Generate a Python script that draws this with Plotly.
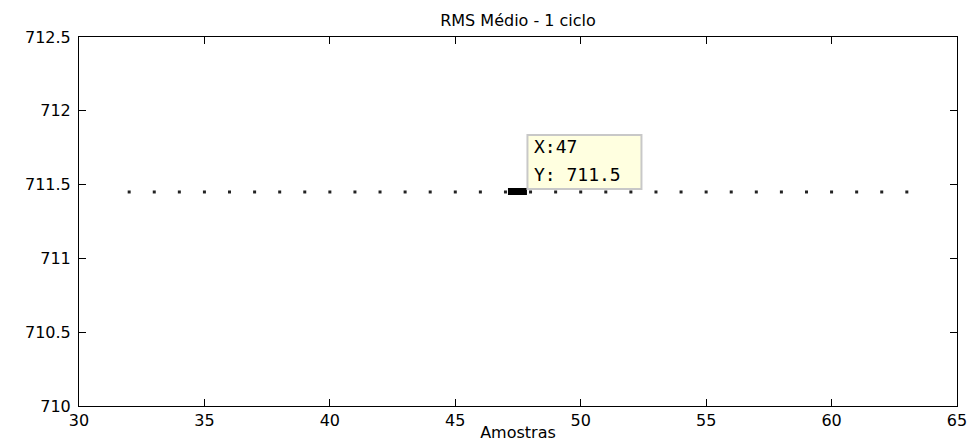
import plotly.graph_objects as go

# ---- data ----
amostras = [32, 33, 34, 35, 36, 37, 38, 39, 40, 41, 42, 43, 44, 45, 46, 47,
            48, 49, 50, 51, 52, 53, 54, 55, 56, 57, 58, 59, 60, 61, 62, 63]
rms_medio = [711.45, 711.45, 711.45, 711.45, 711.45, 711.45, 711.45, 711.45,
             711.45, 711.45, 711.45, 711.45, 711.45, 711.45, 711.45, 711.45,
             711.45, 711.45, 711.45, 711.45, 711.45, 711.45, 711.45, 711.45,
             711.45, 711.45, 711.45, 711.45, 711.45, 711.45, 711.45, 711.45]
x_ticks = [30, 35, 40, 45, 50, 55, 60, 65]
y_ticks = [710, 710.5, 711, 711.5, 712, 712.5]
y_tick_labels = ["710", "710.5", "711", "711.5", "712", "712.5"]
tip_x = 47
tip_y = rms_medio[amostras.index(tip_x)]
tip_lines = ["X:47", "Y: 711.5"]
title = "RMS Médio - 1 ciclo"
x_title = "Amostras"

font_main = "DejaVu Sans"
fig = go.Figure()
fig.add_trace(go.Scatter(
    x=amostras, y=rms_medio, mode="markers",
    marker=dict(symbol="square", size=3, color="#222222", line=dict(width=0)),
    hoverinfo="skip", showlegend=False,
))

axis_common = dict(
    showline=True, linecolor="black", linewidth=1, mirror="ticks",
    ticks="inside", ticklen=7, tickwidth=1, tickcolor="black",
    showgrid=False, zeroline=False, automargin=False,
    tickfont=dict(family=font_main, size=16, color="black"),
)
fig.update_xaxes(range=[30, 65], tickvals=x_ticks, ticktext=[str(v) for v in x_ticks],
                 ticklabelstandoff=0,
                 title=dict(text=x_title, font=dict(family=font_main, size=16, color="black"), standoff=0),
                 **axis_common)
fig.update_yaxes(range=[710, 712.5], tickvals=y_ticks, ticktext=y_tick_labels,
                 ticklabelstandoff=4, **axis_common)

# data tip: marker, box and text (positioned relative to the data point in pixels)
fig.add_shape(type="rect", xref="x", yref="y", xsizemode="pixel", ysizemode="pixel",
              xanchor=tip_x, yanchor=tip_y, x0=2.5, x1=21.5, y0=-3, y1=4,
              fillcolor="black", line=dict(width=0))
fig.add_shape(type="rect", xref="x", yref="y", xsizemode="pixel", ysizemode="pixel",
              xanchor=tip_x, yanchor=tip_y, x0=22, x1=136, y0=3, y1=57,
              fillcolor="#ffffe0", line=dict(color="#c8c8c8", width=2))
for line_text, yshift in zip(tip_lines, [45, 17]):
    fig.add_annotation(x=tip_x, y=tip_y, xref="x", yref="y", text=line_text,
                       showarrow=False, xanchor="left", yanchor="middle",
                       xshift=27, yshift=yshift,
                       font=dict(family="DejaVu Sans Mono", size=18, color="black"))

fig.update_layout(
    template="none",
    width=975, height=442,
    margin=dict(l=79, r=18, t=37, b=36),
    paper_bgcolor="white", plot_bgcolor="white",
    title=dict(text=title, x=518 / 975, xanchor="center", y=1 - 20 / 442, yanchor="middle",
               font=dict(family=font_main, size=16, color="black")),
    showlegend=False,
)

fig.write_html("out.html")
